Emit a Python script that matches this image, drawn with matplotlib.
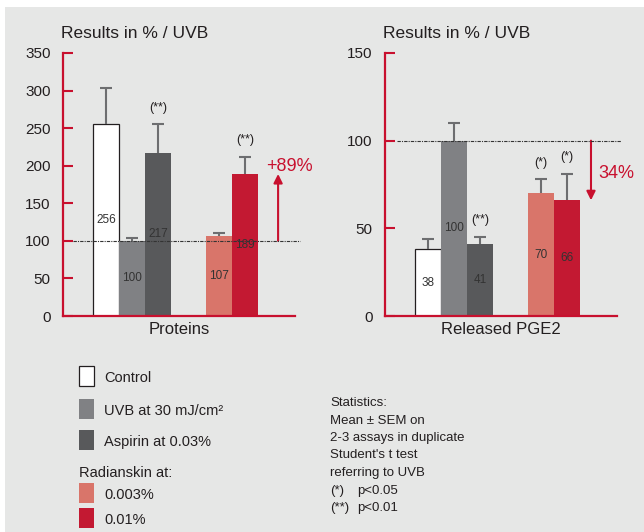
import matplotlib.pyplot as plt
from matplotlib.patches import Rectangle

plt.rcParams['font.family'] = ['Liberation Sans', 'DejaVu Sans']

# ------------ data ------------
groups = ["Control", "UVB at 30 mJ/cm²", "Aspirin at 0.03%", "0.003%", "0.01%"]
colors = ["#ffffff", "#808184", "#58595b", "#d9756a", "#c31932"]

proteins = [256, 100, 217, 107, 189]
proteins_err = [48, 4, 38, 4, 23]
proteins_sig = ["", "", "(**)", "", "(**)"]

pge2 = [38, 100, 41, 70, 66]
pge2_err = [6, 10, 4, 8, 15]
pge2_sig = ["", "", "(**)", "(*)", "(*)"]

stats_lines = ["Statistics:", "Mean ± SEM on", "2-3 assays in duplicate",
               "Student's t test", "referring to UVB"]
sig_keys = ["(*)", "(**)"]
sig_vals = ["p<0.05", "p<0.01"]

red = "#c8102e"
txt = "#231f20"
bg = "#e6e7e6"

xpos = [1.65, 2.65, 3.65, 6.0, 7.0]

fig = plt.figure(figsize=(6.44, 5.32), dpi=100)
fig.patches.append(Rectangle((5 / 644, 0), 1, 525 / 532, transform=fig.transFigure,
                             facecolor=bg, edgecolor="none", zorder=-10))


def panel(rect, vals, errs, sig, ymax, yticks, xlabel, dash_x):
    ax = fig.add_axes(rect)
    ax.patch.set_visible(False)
    bars = ax.bar(xpos, vals, width=1.0, color=colors, zorder=2)
    bars[0].set_edgecolor("#231f20")
    bars[0].set_linewidth(0.9)
    # upper error bars only (no cap at the bar top)
    tops = [v + e for v, e in zip(vals, errs)]
    ax.vlines(xpos, vals, tops, color="#6d6e70", lw=1.5, zorder=3)
    ax.plot(xpos, tops, linestyle="none", marker="_", markersize=8, mew=1.5,
            color="#6d6e70", zorder=3)
    for x, v, t, s in zip(xpos, vals, tops, sig):
        ax.text(x, v / 2, str(v), ha="center", va="center", fontsize=8.5, color="#333333", zorder=4)
        if s:
            ax.annotate(s, (x, t), xytext=(0, 12), textcoords="offset points",
                        ha="center", va="center", fontsize=9, color=txt)
    ax.axhline(100, xmin=dash_x[0], xmax=dash_x[1], color="#333333", lw=0.8,
               linestyle=(0, (3, 1, 1, 1)), clip_on=False, zorder=5)
    ax.set_xlim(0, 8.92)
    ax.set_ylim(0, ymax)
    ax.set_yticks(yticks)
    ax.set_xticks([])
    for side in ["top", "right"]:
        ax.spines[side].set_visible(False)
    for side in ["left", "bottom"]:
        ax.spines[side].set_color(red)
        ax.spines[side].set_linewidth(1.6)
    ax.tick_params(axis="y", direction="in", length=7, width=1.5, color=red,
                   labelsize=11, labelcolor=txt, pad=9)
    ax.set_xlabel(xlabel, fontsize=12, color=txt, labelpad=4)
    ax.text(-0.01, 1.045, "Results in % / UVB", transform=ax.transAxes,
            fontsize=12.5, color=txt, ha="left", va="bottom")
    return ax


ax1 = panel([63 / 644, 216 / 532, 232 / 644, 263 / 532], proteins, proteins_err, proteins_sig,
            350, range(0, 351, 50), "Proteins", (0.043, 1.02))
ax1.annotate("", xy=(8.27, proteins[4]), xytext=(8.27, 100),
             arrowprops=dict(arrowstyle="-|>", color=red, lw=1.5, mutation_scale=13,
                             shrinkA=0, shrinkB=0))
ax1.text(8.72, 199, "+" + str(proteins[4] - proteins[1]) + "%", color=red, fontsize=13,
         ha="center", va="center", clip_on=False)

ax2 = panel([385 / 644, 216 / 532, 232 / 644, 263 / 532], pge2, pge2_err, pge2_sig,
            150, [0, 50, 100, 150], "Released PGE2", (0.052, 1.017))
ax2.annotate("", xy=(7.92, pge2[4]), xytext=(7.92, 100),
             arrowprops=dict(arrowstyle="-|>", color=red, lw=1.5, mutation_scale=13,
                             shrinkA=0, shrinkB=0))
ax2.text(8.9, 81, str(pge2[1] - pge2[4]) + "%", color=red, fontsize=13,
         ha="center", va="center", clip_on=False)

# ------------ legend ------------
leg_y = [376, 409, 440, 493, 518]
for i, (g, c) in enumerate(zip(groups, colors)):
    y = leg_y[i]
    fig.patches.append(Rectangle((79 / 644, 1 - (y + 10) / 532), 15 / 644, 20 / 532,
                                 transform=fig.transFigure, facecolor=c,
                                 edgecolor="#231f20" if i == 0 else "none", lw=0.9))
    fig.text(104 / 644, 1 - (y + 2) / 532, g, fontsize=10.5, color=txt, va="center")
fig.text(79 / 644, 1 - 473 / 532, "Radianskin at:", fontsize=10.5, color=txt, va="center")

for i, line in enumerate(stats_lines):
    fig.text(330 / 644, 1 - (403 + 17.5 * i) / 532, line, fontsize=9.5, color=txt, va="center")
for i, (k, v) in enumerate(zip(sig_keys, sig_vals)):
    y = 1 - (491 + 17.5 * i) / 532
    fig.text(330 / 644, y, k, fontsize=9.5, color=txt, va="center")
    fig.text(357 / 644, y, v, fontsize=9.5, color=txt, va="center")

fig.savefig("out.png", dpi=100, facecolor="white")
